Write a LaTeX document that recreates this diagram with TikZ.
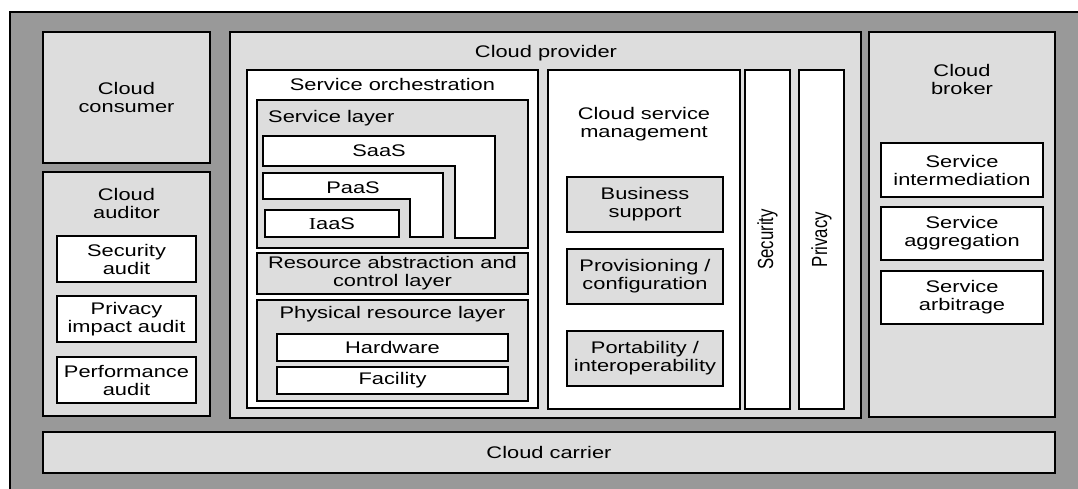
\documentclass[tikz,border=0pt]{standalone}
\usepackage{fontspec}
\usepackage{graphicx}
\setmainfont{Liberation Sans}[FakeStretch=1.3]
\newfontfamily\plainsans{Liberation Sans}
\newfontfamily\serifI{Liberation Serif}[FakeStretch=1.3]
\usetikzlibrary{fit}
\definecolor{dgray}{HTML}{999999}
\definecolor{lgray}{HTML}{DDDDDD}
\tikzset{
  box/.style={draw=black, line width=1.8pt, inner sep=0pt, outer sep=0pt},
  lbox/.style={box, fill=lgray},
  wbox/.style={box, fill=white},
  txt/.style={font=\fontsize{16.8}{18}\selectfont, align=center, inner sep=0pt},
  vtxt/.style={inner sep=0pt},
}
\newcommand\bx[6]{\node[#1, fit={(#3,#4) (#5,#6)}] (#2) {};}
\newcommand\vlabel[1]{\rotatebox{90}{\scalebox{1}[1.3]{\fontsize{16.8}{18}\plainsans #1}}}
\begin{document}
\begin{tikzpicture}[x=1pt,y=-1pt]
\useasboundingbox (0,0) rectangle (1078,488);
\fill[white] (0,0) rectangle (1078,488);
% outer frame
\bx{box, fill=dgray}{outer}{10}{12}{1095}{505}

% Cloud consumer
\bx{lbox}{consumer}{43}{32}{210}{163}
\node[txt] (tconsumer) at (consumer.center) {Cloud\\consumer};

% Cloud auditor
\bx{lbox}{auditor}{43}{172}{210}{416}
\node[txt] (tauditor) at (126.5,203) {Cloud\\auditor};
\bx{wbox}{secaudit}{57}{236}{196}{282}
\node[txt] (tsecaudit) at (secaudit.center) {Security\\audit};
\bx{wbox}{privaudit}{57}{296}{196}{342}
\node[txt] (tprivaudit) at (privaudit.center) {Privacy\\impact audit};
\bx{wbox}{perfaudit}{57}{357}{196}{403}
\node[txt] (tperfaudit) at (perfaudit.center) {Performance\\audit};

% Cloud provider
\bx{lbox}{provider}{230}{32}{861}{418}
\node[txt, anchor=base] (tprovider) at (546,57) {Cloud provider};

% Service orchestration
\bx{wbox}{orch}{247}{70}{538}{408}
\node[txt, anchor=base] (torch) at (392.5,90) {Service orchestration};

\bx{lbox}{slayer}{257}{100}{528}{248}
\node[txt, anchor=base west] (tslayer) at (268,122) {Service layer};
\draw[box, fill=white] (263,136) -- (495,136) -- (495,238) -- (455,238) -- (455,166) -- (263,166) -- cycle;
\node[txt, anchor=base] (tsaas) at (379,156) {SaaS};
\draw[box, fill=white] (263,173) -- (443,173) -- (443,237) -- (410,237) -- (410,199) -- (263,199) -- cycle;
\node[txt, anchor=base] (tpaas) at (353,193) {PaaS};
\bx{wbox}{iaas}{265}{210}{399}{237}
\node[txt, anchor=base] (tiaas) at (332,229) {{\serifI I}aaS};

\bx{lbox}{rabs}{257}{253}{528}{294}
\node[txt] (trabs) at (rabs.center) {Resource abstraction and\\control layer};

\bx{lbox}{phys}{257}{300}{528}{401}
\node[txt, anchor=base] (tphys) at (392.5,318) {Physical resource layer};
\bx{wbox}{hw}{277}{334}{508}{361}
\node[txt] (thw) at (hw.center) {Hardware};
\bx{wbox}{fac}{277}{367}{508}{394}
\node[txt] (tfac) at (fac.center) {Facility};

% Cloud service management
\bx{wbox}{csm}{548}{70}{740}{409}
\node[txt] (tcsm) at (644,124) {Cloud service\\management};
\bx{lbox}{bus}{567}{177}{723}{232}
\node[txt] (tbus) at (bus.center) {Business\\support};
\bx{lbox}{prov}{567}{249}{723}{304}
\node[txt] (tprov) at (prov.center) {Provisioning /\\configuration};
\bx{lbox}{port}{567}{331}{723}{386}
\node[txt] (tport) at (port.center) {Portability /\\interoperability};

% Security / Privacy
\bx{wbox}{sec}{745}{70}{790}{409}
\node[vtxt] (tsec) at (sec.center) {\vlabel{Security}};
\bx{wbox}{priv}{799}{70}{844}{409}
\node[vtxt] (tpriv) at (priv.center) {\vlabel{Privacy}};

% Cloud broker
\bx{lbox}{broker}{869}{32}{1055}{417}
\node[txt] (tbroker) at (962,79) {Cloud\\broker};
\bx{wbox}{inter}{881}{143}{1043}{197}
\node[txt] (tinter) at (inter.center) {Service\\intermediation};
\bx{wbox}{aggr}{881}{207}{1043}{260}
\node[txt] (taggr) at (aggr.center) {Service\\aggregation};
\bx{wbox}{arb}{881}{271}{1043}{324}
\node[txt] (tarb) at (arb.center) {Service\\arbitrage};

% Cloud carrier
\bx{lbox}{carrier}{43}{432}{1055}{473}
\node[txt] (tcarrier) at (carrier.center) {Cloud carrier};
\end{tikzpicture}
\end{document}
